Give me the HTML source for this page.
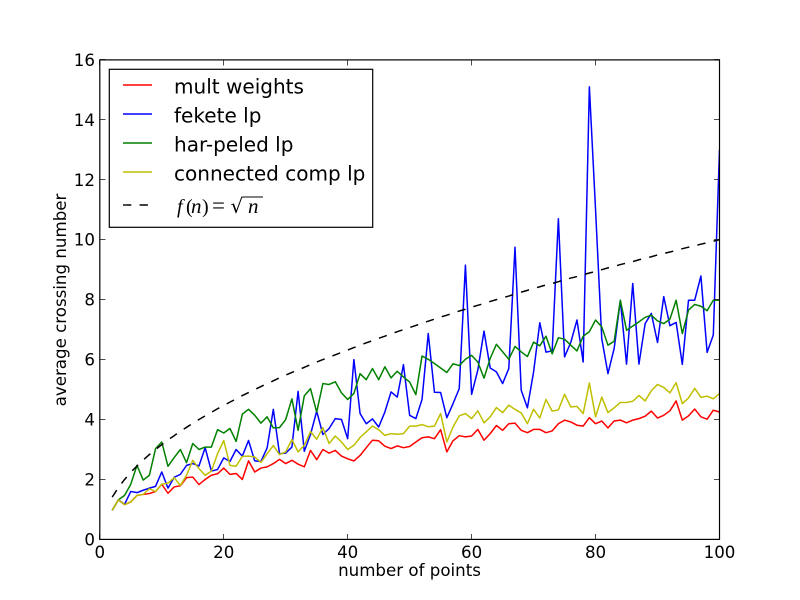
<!DOCTYPE html>
<html lang="en">
<head>
<meta charset="utf-8">
<title>Average crossing number chart</title>
<style>
html,body{margin:0;padding:0;background:#fff;}
svg{display:block;font-family:"DejaVu Sans","Liberation Sans",sans-serif;}
</style>
</head>
<body>
<svg id="chart" xmlns="http://www.w3.org/2000/svg" width="800" height="600" viewBox="0 0 800 600">
<defs><clipPath id="plot-clip"><rect x="99.6" y="59.8" width="620" height="480"/></clipPath></defs>
<rect x="0" y="0" width="800" height="600" fill="#fff"/>
<g id="series-layer" clip-path="url(#plot-clip)"></g>
<rect x="99.8" y="59.9" width="619.7" height="479.5" fill="none" stroke="#000" stroke-width="1.2"/>
<g id="tick-layer"></g>
<text x="409.5" y="576" font-size="16.67" text-anchor="middle" fill="#000">number of points</text>
<text x="0" y="0" transform="translate(66 300) rotate(-90)" font-size="16.67" text-anchor="middle" fill="#000">average crossing number</text>
<g>
<rect x="109.3" y="69.3" width="263.4" height="158" fill="#fff" stroke="#000" stroke-width="1.2"/>
<g>
<line x1="123" y1="85" x2="152" y2="85" stroke="#f00" stroke-width="1.39"/>
<text x="174" y="93.5" font-size="20.05" fill="#000">mult weights</text>
</g>
<g>
<line x1="123" y1="114" x2="152" y2="114" stroke="#00f" stroke-width="1.39"/>
<text x="174" y="122.5" font-size="20.05" fill="#000">fekete lp</text>
</g>
<g>
<line x1="123" y1="143" x2="152" y2="143" stroke="#008000" stroke-width="1.39"/>
<text x="174" y="151.5" font-size="20.05" fill="#000">har-peled lp</text>
</g>
<g>
<line x1="123" y1="172" x2="152" y2="172" stroke="#bfbf00" stroke-width="1.39"/>
<text x="174" y="180.5" font-size="20.05" fill="#000">connected comp lp</text>
</g>
<g>
<line x1="123" y1="205" x2="152" y2="205" stroke="#000" stroke-width="1.39" stroke-dasharray="8.3 8.3"/>
<text y="213" font-size="20" font-family="'Liberation Serif',serif" fill="#000"><tspan x="177" font-style="italic">f</tspan><tspan x="186">(</tspan><tspan x="191" font-style="italic" font-size="21">n</tspan><tspan x="202">)</tspan><tspan x="212" font-size="23">=</tspan><tspan x="230.5" font-family="'DejaVu Sans',sans-serif">√</tspan><tspan x="248" font-style="italic" font-size="21">n</tspan></text>
<line x1="243" y1="197" x2="263" y2="197" stroke="#000" stroke-width="0.9"/>
</g>
</g>
</svg>
<script>
var nPoints = [
2,3,4,5,6,7,8,9,10,11,
12,13,14,15,16,17,18,19,20,21,
22,23,24,25,26,27,28,29,30,31,
32,33,34,35,36,37,38,39,40,41,
42,43,44,45,46,47,48,49,50,51,
52,53,54,55,56,57,58,59,60,61,
62,63,64,65,66,67,68,69,70,71,
72,73,74,75,76,77,78,79,80,81,
82,83,84,85,86,87,88,89,90,91,
92,93,94,95,96,97,98,99,100];
var multWeights = [
.97,1.32,1.16,1.25,1.47,1.5,1.53,1.6,1.84,1.54,
1.75,1.79,2.06,2.08,1.83,2.0,2.14,2.19,2.38,2.17,
2.2,2.0,2.62,2.25,2.38,2.42,2.53,2.67,2.53,2.64,
2.51,2.42,2.97,2.66,3.0,2.88,2.97,2.78,2.69,2.62,
2.8,3.06,3.31,3.29,3.11,3.03,3.12,3.06,3.1,3.25,
3.39,3.42,3.36,3.66,2.92,3.29,3.46,3.42,3.45,3.67,
3.31,3.53,3.8,3.64,3.86,3.88,3.64,3.56,3.67,3.67,
3.56,3.62,3.86,3.98,3.92,3.81,3.78,4.06,3.86,3.95,
3.72,3.95,3.98,3.89,3.98,4.03,4.11,4.28,4.05,4.14,
4.29,4.62,3.98,4.12,4.35,4.09,4.01,4.31,4.25];
var feketeLp = [
.97,1.32,1.17,1.6,1.56,1.64,1.71,1.77,2.25,1.71,
2.07,2.17,2.47,2.53,2.45,3.06,2.28,2.33,2.72,2.6,
3.0,2.78,3.3,2.62,2.6,3.05,4.34,2.86,2.88,3.08,
4.94,2.94,3.5,4.28,3.5,3.7,4.03,4.0,3.36,6.0,
4.2,3.86,4.02,3.75,4.25,4.92,4.75,5.83,4.14,4.03,
4.67,6.87,4.91,4.9,4.06,4.53,5.03,9.15,4.84,5.65,
6.95,5.72,5.59,5.2,5.7,9.75,4.98,4.39,5.59,7.23,
6.25,6.29,10.7,6.09,6.57,7.32,5.92,15.1,11.0,6.7,
5.53,6.37,7.98,5.85,8.54,5.85,7.2,7.54,6.57,8.1,
7.13,7.24,5.84,7.98,7.98,8.79,6.24,6.82,13.0];
var harPeledLp = [
.97,1.32,1.47,1.84,2.47,1.98,2.14,3.03,3.25,2.44,
2.73,3.0,2.56,3.2,3.0,3.08,3.08,3.66,3.55,3.7,
3.27,4.18,4.34,4.14,3.88,4.09,3.72,3.73,4.0,4.69,
3.64,4.79,5.03,4.25,5.2,5.17,5.26,4.89,4.67,4.87,
5.53,5.33,5.7,5.33,5.76,5.39,5.61,5.42,5.25,4.83,
6.12,6.01,5.87,5.72,5.57,5.86,5.8,6.01,6.14,5.92,
5.38,6.04,6.51,6.26,6.01,6.44,6.26,6.1,6.58,6.46,
6.78,6.19,6.73,6.68,6.48,6.29,6.78,6.93,7.32,7.09,
6.48,6.61,7.98,6.98,7.12,7.26,7.41,7.48,7.29,7.2,
7.35,7.98,6.87,7.65,7.84,7.78,7.63,7.98,7.98];
var connectedCompLp = [
.97,1.32,1.16,1.25,1.47,1.5,1.69,1.6,1.84,1.88,
2.06,1.8,2.14,2.64,2.36,2.14,2.28,2.86,3.3,2.47,
2.44,2.77,2.78,2.75,2.57,2.86,3.13,2.83,2.92,3.33,
2.92,3.14,3.6,3.34,3.73,3.2,3.45,3.25,3.0,3.14,
3.4,3.59,3.78,3.66,3.47,3.53,3.51,3.53,3.78,3.78,
3.83,3.76,3.78,4.2,3.25,3.75,4.12,4.2,4.03,4.29,
3.89,4.09,4.4,4.23,4.48,4.34,4.22,3.86,4.34,4.05,
4.67,4.28,4.32,4.84,4.42,4.44,4.2,5.22,4.09,4.75,
4.23,4.39,4.57,4.57,4.61,4.8,4.62,4.96,5.17,5.07,
4.89,5.23,4.53,4.72,5.04,4.74,4.78,4.69,4.87];
var sqrtCurve = [
1.41,1.73,2,2.24,2.45,2.65,2.83,3,3.16,3.32,
3.46,3.61,3.74,3.87,4,4.12,4.24,4.36,4.47,4.58,
4.69,4.80,4.90,5,5.10,5.20,5.29,5.39,5.48,5.57,
5.66,5.74,5.83,5.92,6,6.08,6.16,6.24,6.32,6.40,
6.48,6.56,6.63,6.71,6.78,6.86,6.93,7,7.07,7.14,
7.21,7.28,7.35,7.42,7.48,7.55,7.62,7.68,7.75,7.81,
7.87,7.94,8,8.06,8.12,8.19,8.25,8.31,8.37,8.43,
8.49,8.54,8.60,8.66,8.72,8.77,8.83,8.89,8.94,9,
9.06,9.11,9.17,9.22,9.27,9.33,9.38,9.43,9.49,9.54,
9.59,9.64,9.70,9.75,9.80,9.85,9.90,9.95,10];
var xTickValues = [0,20,40,60,80,100];
var yTickValues = [0,2,4,6,8,10,12,14,16];

var SVG_NS = 'http://www.w3.org/2000/svg';
function xScale(v){ return 99.8 + v * 6.197; }
function yScale(v){ return 539.4 - v * 29.97; }
function drawSeries(name, values, color, dash){
  var layer = document.getElementById('series-layer');
  var d = '';
  for (var i = 0; i < nPoints.length; i++) {
    d += (i ? 'L' : 'M') + xScale(nPoints[i]).toFixed(2) + ' ' + yScale(values[i]).toFixed(2);
  }
  var p = document.createElementNS(SVG_NS, 'path');
  
  
  p.setAttribute('d', d);
  p.setAttribute('fill', 'none');
  p.setAttribute('stroke', color);
  p.setAttribute('stroke-width', '1.5');
  p.setAttribute('stroke-linejoin', 'round');
  if (dash) { p.setAttribute('stroke-dasharray', dash); }
  layer.appendChild(p);
}
function drawTick(x1, y1, x2, y2){
  var l = document.createElementNS(SVG_NS, 'line');
  
  
  l.setAttribute('x1', x1);
  l.setAttribute('y1', y1);
  l.setAttribute('x2', x2);
  l.setAttribute('y2', y2);
  l.setAttribute('stroke', '#000');
  l.setAttribute('stroke-width', '0.7');
  document.getElementById('tick-layer').appendChild(l);
}
function drawLabel(name, x, y, anchor, str){
  var t = document.createElementNS(SVG_NS, 'text');
  
  
  t.setAttribute('x', x);
  t.setAttribute('y', y);
  t.setAttribute('text-anchor', anchor);
  t.setAttribute('font-size', '16.67');
  t.setAttribute('fill', '#000');
  t.textContent = str;
  document.getElementById('tick-layer').appendChild(t);
}
drawSeries('series-mult-weights', multWeights, '#f00');
drawSeries('series-fekete-lp', feketeLp, '#00f');
drawSeries('series-har-peled-lp', harPeledLp, '#008000');
drawSeries('series-connected-comp-lp', connectedCompLp, '#bfbf00');
drawSeries('series-sqrt-n', sqrtCurve, '#000', '8.3 8.3');
xTickValues.forEach(function(v){
  var x = Math.round(xScale(v) - 0.5) + 0.5;
  drawTick(x, 539.4, x, 534);
  drawTick(x, 60, x, 65.5);
  drawLabel('x-tick-label', xScale(v), 558, 'middle', String(v));
});
yTickValues.forEach(function(v){
  var y = Math.round(yScale(v) - 0.5) + 0.5;
  drawTick(100, y, 105.5, y);
  drawTick(719.5, y, 714, y);
  drawLabel('y-tick-label', 95, yScale(v) + 6, 'end', String(v));
});
</script>
</body>
</html>
